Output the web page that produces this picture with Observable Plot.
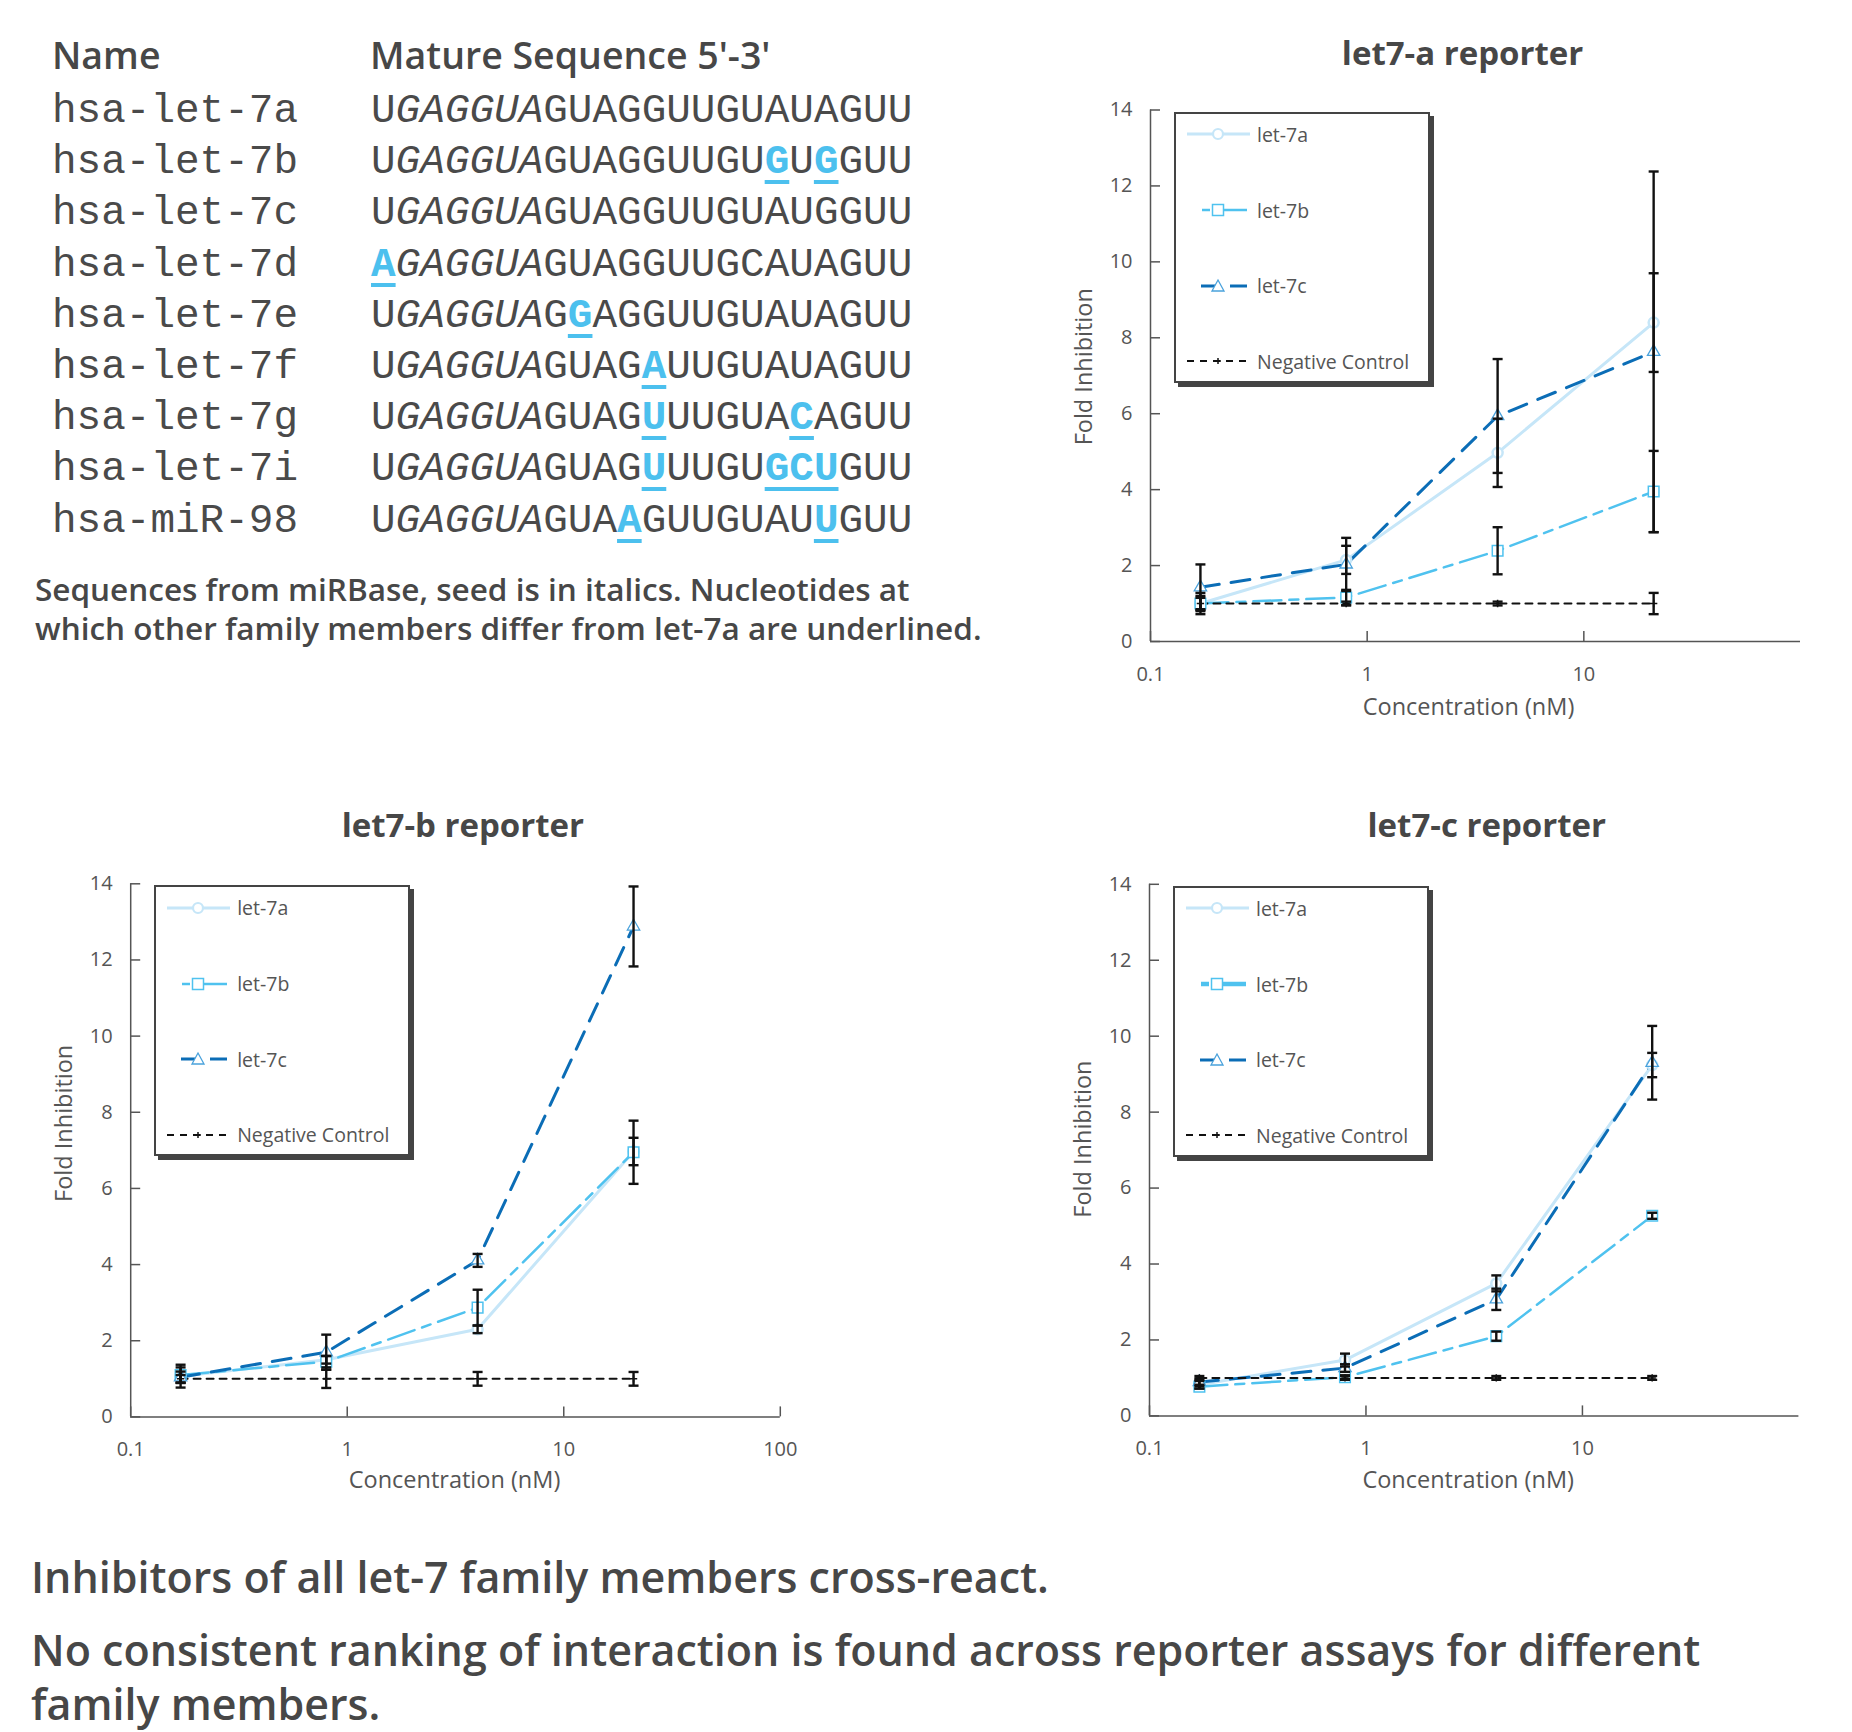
<!DOCTYPE html>
<html>
<head>
<meta charset="utf-8">
<script src="https://cdn.jsdelivr.net/npm/d3@7"></script>
<script src="https://cdn.jsdelivr.net/npm/@observablehq/plot@0.6"></script>
<style>
  html, body { margin: 0; padding: 0; background: #fff; }
  #page { position: relative; width: 1852px; height: 1732px; overflow: hidden; background: #fff;
          font-family: "Open Sans", sans-serif; color: #474747; }
  .abs { position: absolute; white-space: nowrap; line-height: 1; }
  .hdr { font-size: 37.5px; font-weight: 600; }
  .mono { font-family: "Liberation Mono", monospace; font-size: 41px; color: #4a4a4a; }
  .mono i { font-style: italic; }
  .mono b { font-weight: bold; color: #4cc0ee; text-decoration: underline; text-decoration-color: #4cc0ee;
            text-decoration-thickness: 4px; text-underline-offset: 7px; }
  .cap { font-size: 31.5px; font-weight: 600; line-height: 39px; }
  .big { font-size: 43px; font-weight: 600; }
  .title { font-size: 33px; font-weight: 700; text-align: center; width: 600px; }
  .legend { position: absolute; box-sizing: border-box; width: 256px; height: 271px; background: #fff;
            border: 2px solid #444; box-shadow: 4px 4px 0 #444; }
  .lgrow { position: absolute; left: 10px; height: 20px; display: flex; align-items: center; }
  .lgrow span { font-size: 19.5px; color: #555; margin-left: 5px; }
</style>
</head>
<body>
<div id="page"></div>
<script>
// ---------------- data ----------------
const mirNames = ["hsa-let-7a","hsa-let-7b","hsa-let-7c","hsa-let-7d","hsa-let-7e","hsa-let-7f","hsa-let-7g","hsa-let-7i","hsa-miR-98"];
const mirSeqs  = ["UGAGGUAGUAGGUUGUAUAGUU","UGAGGUAGUAGGUUGUGUGGUU","UGAGGUAGUAGGUUGUAUGGUU","AGAGGUAGUAGGUUGCAUAGUU",
                  "UGAGGUAGGAGGUUGUAUAGUU","UGAGGUAGUAGAUUGUAUAGUU","UGAGGUAGUAGUUUGUACAGUU","UGAGGUAGUAGUUUGUGCUGUU",
                  "UGAGGUAGUAAGUUGUAUUGUU"];
const mirDiffs = [[], [16,18], [], [0], [8], [11], [11,17], [11,16,17,18], [10,18]];
const seedItalic = [1, 6]; // italic letters, 0-based inclusive

const conc = [0.17, 0.8, 4, 21];
const seriesNames = ["let-7a", "let-7b", "let-7c", "Negative Control"];
const yTicks = [0, 2, 4, 6, 8, 10, 12, 14];
const xTicksAC = [0.1, 1, 10];
const xTicksB = [0.1, 1, 10, 100];

// let7-a reporter
const aLet7a = [1.0, 2.15, 4.97, 8.4];   const aLet7aErr = [0.2, 0.37, 0.9, 1.3];
const aLet7b = [1.0, 1.16, 2.39, 3.95];  const aLet7bErr = [0.15, 0.2, 0.62, 1.07];
const aLet7c = [1.43, 2.03, 5.94, 7.63]; const aLet7cErr = [0.6, 0.7, 1.5, 4.75];
const aNeg   = [1.0, 1.0, 1.0, 1.0];     const aNegErr   = [0.28, 0.05, 0.05, 0.28];
// let7-b reporter
const bLet7a = [1.07, 1.5, 2.3, 6.97];   const bLet7aErr = [0.3, 0.1, 0.1, 0.36];
const bLet7b = [1.1, 1.45, 2.87, 6.95];  const bLet7bErr = [0.2, 0.15, 0.47, 0.83];
const bLet7c = [1.04, 1.7, 4.11, 12.88]; const bLet7cErr = [0.15, 0.46, 0.17, 1.05];
const bNeg   = [1.0, 1.0, 1.0, 1.0];     const bNegErr   = [0.1, 0.24, 0.18, 0.18];
// let7-c reporter
const cLet7a = [0.82, 1.47, 3.49, 9.24]; const cLet7aErr = [0.1, 0.17, 0.21, 0.32];
const cLet7b = [0.77, 1.02, 2.1, 5.27];  const cLet7bErr = [0.05, 0.05, 0.12, 0.08];
const cLet7c = [0.89, 1.26, 3.07, 9.3];  const cLet7cErr = [0.1, 0.1, 0.28, 0.97];
const cNeg   = [1.0, 1.0, 1.0, 1.0];     const cNegErr   = [0.05, 0.05, 0.05, 0.05];

// ---------------- styles ----------------
const styles = {
  "let-7a": {stroke: "#c6e6f8", width: 3, dash: null, symbol: "circle", r: 5, mstroke: "#c6e6f8", mwidth: 2.5},
  "let-7b": {stroke: "#4fc2ef", width: 2.5, dash: "28,8,9,8", symbol: "square", r: 6, mstroke: "#4fc2ef", mwidth: 1.5},
  "let-7c": {stroke: "#0b6db6", width: 3, dash: "19,12", symbol: "triangle", r: 4.6, mstroke: "#4aa2dc", mwidth: 1.3},
  "Negative Control": {stroke: "#111", width: 2, dash: "7,6", symbol: "plus", r: 2.5, mstroke: "#111", mwidth: 1.5}
};
const AX = "#555";

const page = document.getElementById("page");
function addDiv(cls, left, top, html) {
  const d = document.createElement("div");
  d.className = "abs " + cls;
  d.style.left = left + "px"; d.style.top = top + "px";
  d.innerHTML = html;
  page.appendChild(d);
  return d;
}

// ---------------- sequence table ----------------
addDiv("hdr", 52, 36.3, "Name");
addDiv("hdr", 370, 36.3, "Mature Sequence 5'-3'");
mirNames.forEach((nm, i) => {
  const base = 122.3 + 51.2 * i;
  addDiv("mono", 52, base - 31.4, nm);
  const seq = mirSeqs[i];
  const kind = c => mirDiffs[i].includes(c) ? "b" : (c >= seedItalic[0] && c <= seedItalic[1] ? "i" : "n");
  let html = "", c = 0;
  while (c < seq.length) {
    const k = kind(c); let s = "";
    while (c < seq.length && kind(c) === k) { s += seq[c]; c++; }
    html += k === "n" ? s : `<${k}>${s}</${k}>`;
  }
  addDiv("mono", 371, base - 31.4, html);
});
addDiv("cap", 35, 569, "Sequences from miRBase, seed is in italics. Nucleotides at<br>which other family members differ from let-7a are underlined.");

addDiv("big", 31, 1555, "Inhibitors of all let-7 family members cross-react.");
addDiv("big", 31, 1628, "No consistent ranking of interaction is found across reporter assays for different");
addDiv("big", 31, 1681.5, "family members.");

// ---------------- charts ----------------
const capSymbol = { draw(ctx, size) { const w = Math.sqrt(size / Math.PI); ctx.moveTo(-w, 0); ctx.lineTo(w, 0); } };

function makeChart(cfg) {
  const rows = [];
  cfg.series.forEach((s, si) => s.values.forEach((v, i) =>
    rows.push({series: seriesNames[si], conc: conc[i], value: v, err: s.errs[i]})));
  const marks = [
    Plot.ruleY([0], {stroke: AX, strokeWidth: 1.5}),
    Plot.ruleX([0.1], {stroke: AX, strokeWidth: 1.5}),
    Plot.axisX({ticks: cfg.xTicks, tickFormat: d => String(d), tickSize: -10, tickPadding: 35,
                stroke: AX, strokeWidth: 1.5, fill: AX, label: null, fontSize: 20}),
    Plot.axisY({ticks: yTicks, tickSize: -10, tickPadding: 28, stroke: AX, strokeWidth: 1.5, fill: AX, label: null, fontSize: 20}),
    Plot.text(["Concentration (nM)"], {text: d => d, frameAnchor: "bottom", dy: cfg.xlabDy, dx: cfg.xlabDx, fontSize: 23.5, fill: AX}),
    Plot.text(["Fold Inhibition"], {text: d => d, frameAnchor: "left", textAnchor: "middle", rotate: -90, dx: -66, dy: cfg.ylabDy, fontSize: 23.5, fill: AX})
  ];
  for (const name of seriesNames) {
    const st = styles[name];
    marks.push(Plot.line(rows.filter(d => d.series === name), {x: "conc", y: "value", stroke: st.stroke,
      strokeWidth: st.width, strokeDasharray: st.dash}));
  }
  for (const name of seriesNames) {
    const st = styles[name];
    marks.push(Plot.dot(rows.filter(d => d.series === name), {x: "conc", y: "value", symbol: st.symbol, r: st.r,
      stroke: st.mstroke, strokeWidth: st.mwidth, fill: name === "Negative Control" ? "none" : "white"}));
  }
  marks.push(Plot.ruleX(rows, {x: "conc", y1: d => d.value - d.err, y2: d => d.value + d.err, stroke: "#111", strokeWidth: 2.4}));
  marks.push(Plot.dot(rows, {x: "conc", y: d => d.value + d.err, symbol: capSymbol, r: 5, stroke: "#111", strokeWidth: 2.4, fill: "none"}));
  marks.push(Plot.dot(rows, {x: "conc", y: d => d.value - d.err, symbol: capSymbol, r: 5, stroke: "#111", strokeWidth: 2.4, fill: "none"}));

  const svg = Plot.plot({
    width: cfg.W, height: cfg.H,
    marginLeft: cfg.x0 - cfg.L, marginRight: cfg.L + cfg.W - cfg.x1,
    marginTop: cfg.y14 - cfg.T, marginBottom: cfg.T + cfg.H - cfg.y0,
    x: {type: "log", domain: [0.1, 100]},
    y: {domain: [0, 14]},
    style: {fontFamily: "Open Sans, sans-serif", fontSize: "20px", color: AX, background: "transparent", overflow: "visible"},
    marks
  });
  const wrap = document.createElement("div");
  wrap.style.position = "absolute"; wrap.style.left = cfg.L + "px"; wrap.style.top = cfg.T + "px";
  wrap.appendChild(svg);
  page.appendChild(wrap);

  // title
  addDiv("title", cfg.titleX - 300, cfg.titleTop, cfg.title);

  // legend
  const lg = document.createElement("div");
  lg.className = "legend";
  lg.style.left = (cfg.x0 + 24) + "px"; lg.style.top = (cfg.y14 + 2) + "px";
  const rowsY = [22.5, 98.7, 174, 249.5];
  seriesNames.forEach((name, i) => {
    const st = styles[name];
    let g = "";
    const ls = (x1, x2, w, col, dash) => `<line x1="${x1}" x2="${x2}" y1="10" y2="10" stroke="${col}" stroke-width="${w}" ${dash ? `stroke-dasharray="${dash}"` : ""}/>`;
    if (name === "let-7a") {
      g = ls(1, 64, st.width, st.stroke) + `<circle cx="32" cy="10" r="5" fill="white" stroke="${st.mstroke}" stroke-width="2.2"/>`;
    } else if (name === "let-7b") {
      const w = cfg.legend7bThick ? 4.5 : st.width;
      g = ls(16, 24, w, st.stroke) + ls(37, 61, w, st.stroke) + `<rect x="26.5" y="4.5" width="11" height="11" fill="white" stroke="${st.mstroke}" stroke-width="1.5"/>`;
    } else if (name === "let-7c") {
      g = ls(15, 32, st.width, st.stroke) + ls(44, 61, st.width, st.stroke) + `<path d="M32,4 L38,15 L26,15 Z" fill="white" stroke="${st.mstroke}" stroke-width="1.3"/>`;
    } else {
      g = ls(1, 64, st.width, st.stroke, st.dash) + `<path d="M32,7 V13 M29,10 H35" stroke="#111" stroke-width="1.5"/>`;
    }
    const r = document.createElement("div");
    r.className = "lgrow";
    r.style.top = (rowsY[i] - 12) + "px";
    r.innerHTML = `<svg width="66" height="20">${g}</svg><span>${name}</span>`;
    lg.appendChild(r);
  });
  page.appendChild(lg);
}

makeChart({title: "let7-a reporter", titleX: 1462.6, titleTop: 36, L: 1030, T: 90, W: 800, H: 650,
  x0: 1150, x1: 1800, y0: 641, y14: 109.5, xTicks: xTicksAC, xlabDy: 73, xlabDx: -7, ylabDy: -9,
  series: [{values: aLet7a, errs: aLet7aErr}, {values: aLet7b, errs: aLet7bErr}, {values: aLet7c, errs: aLet7cErr}, {values: aNeg, errs: aNegErr}]});
makeChart({title: "let7-b reporter", titleX: 462.9, titleTop: 807.6, L: 10, T: 865, W: 800, H: 640,
  x0: 130.2, x1: 779.8, y0: 1416.4, y14: 883.3, xTicks: xTicksB, xlabDy: 71, xlabDx: -1, ylabDy: -27,
  series: [{values: bLet7a, errs: bLet7aErr}, {values: bLet7b, errs: bLet7bErr}, {values: bLet7c, errs: bLet7cErr}, {values: bNeg, errs: bNegErr}]});
makeChart({title: "let7-c reporter", titleX: 1486.8, titleTop: 807.6, L: 1029, T: 865, W: 800, H: 640,
  x0: 1149, x1: 1798.4, y0: 1415.4, y14: 883.8, xTicks: xTicksAC, xlabDy: 72, xlabDx: -6, ylabDy: -11, legend7bThick: true,
  series: [{values: cLet7a, errs: cLet7aErr}, {values: cLet7b, errs: cLet7bErr}, {values: cLet7c, errs: cLet7cErr}, {values: cNeg, errs: cNegErr}]});
</script>
</body>
</html>
